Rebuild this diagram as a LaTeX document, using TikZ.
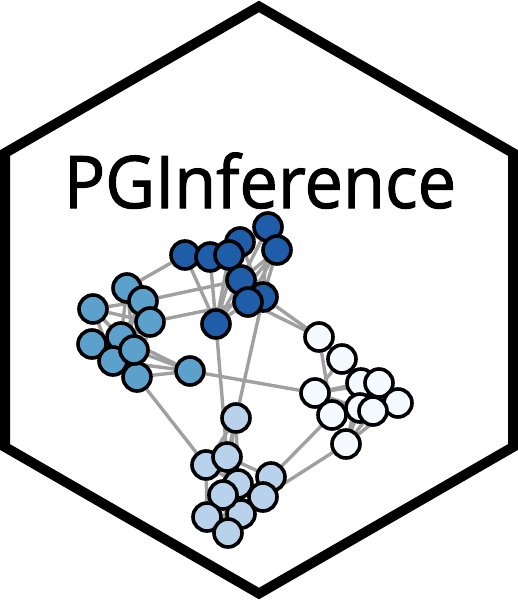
\documentclass[tikz,border=0pt]{standalone}
\usepackage{fontspec}
\setmainfont{Open Sans}[FakeBold=1.5]
\usetikzlibrary{backgrounds}

\definecolor{darkblue}{HTML}{1F5DA8}
\definecolor{midblue}{HTML}{5BA1CC}
\definecolor{lightblue}{HTML}{B9D2EC}
\definecolor{paleblue}{HTML}{F4FAFF}
\definecolor{edgegray}{HTML}{A0A0A0}

\begin{document}
\begin{tikzpicture}[
x=1pt,y=-1pt,
member/.style={
circle,
minimum size=28pt,
inner sep=0pt,
line width=3.6pt,
draw=black
},
link/.style={
line width=3.4pt,
draw=edgegray
}]

\useasboundingbox (0,0) rectangle (518,600);

\node[draw=none,anchor=base,xscale=0.945] (title) at (260,208) {\fontsize{72.5}{72.5}\selectfont PGInference};

% first group
\node[member,fill=darkblue] (a1) at (185,255) {};
\node[member,fill=darkblue] (a2) at (210,257) {};
\node[member,fill=darkblue] (a3) at (240,242) {};
\node[member,fill=darkblue] (a4) at (229,255) {};
\node[member,fill=darkblue] (a5) at (268,227) {};
\node[member,fill=darkblue] (a6) at (277,250) {};
\node[member,fill=darkblue] (a7) at (241,280) {};
\node[member,fill=darkblue] (a8) at (263,297) {};
\node[member,fill=darkblue] (a9) at (248,302) {};
\node[member,fill=darkblue] (a10) at (216,324) {};

% second group
\node[member,fill=midblue] (b1) at (127,288) {};
\node[member,fill=midblue] (b2) at (143,301) {};
\node[member,fill=midblue] (b3) at (150,322) {};
\node[member,fill=midblue] (b4) at (93,309) {};
\node[member,fill=midblue] (b5) at (92,344) {};
\node[member,fill=midblue] (b6) at (121,337) {};
\node[member,fill=midblue] (b7) at (113,361) {};
\node[member,fill=midblue] (b8) at (137,377) {};
\node[member,fill=midblue] (b9) at (134,350) {};
\node[member,fill=midblue] (b10) at (190,371) {};

% third group
\node[member,fill=lightblue] (c1) at (236,418) {};
\node[member,fill=lightblue] (c2) at (206,465) {};
\node[member,fill=lightblue] (c3) at (227,457) {};
\node[member,fill=lightblue] (c4) at (238,484) {};
\node[member,fill=lightblue] (c5) at (271,477) {};
\node[member,fill=lightblue] (c6) at (263,497) {};
\node[member,fill=lightblue] (c7) at (241,514) {};
\node[member,fill=lightblue] (c8) at (223,495) {};
\node[member,fill=lightblue] (c9) at (207,517) {};
\node[member,fill=lightblue] (c10) at (228,533) {};

% fourth group
\node[member,fill=paleblue] (d1) at (319,337) {};
\node[member,fill=paleblue] (d2) at (342,359) {};
\node[member,fill=paleblue] (d3) at (361,383) {};
\node[member,fill=paleblue] (d4) at (379,383) {};
\node[member,fill=paleblue] (d5) at (315,393) {};
\node[member,fill=paleblue] (d6) at (332,415) {};
\node[member,fill=paleblue] (d7) at (360,408) {};
\node[member,fill=paleblue] (d8) at (398,403) {};
\node[member,fill=paleblue] (d9) at (373,411) {};
\node[member,fill=paleblue] (d10) at (346,444) {};

\begin{scope}[on background layer]
\draw[line width=10pt] (259,6.5) -- (513,153) -- (513,447) -- (259,593.5) -- (5,447) -- (5,153) -- cycle;

\draw[link] (a1) -- (b1);
\draw[link] (a1) -- (a10);
\draw[link] (a2) -- (a10);
\draw[link] (a2) -- (a7);
\draw[link] (a3) -- (a10);
\draw[link] (a3) -- (a8);
\draw[link] (a4) -- (a10);
\draw[link] (a4) -- (a7);
\draw[link] (a5) -- (a7);
\draw[link] (a5) -- (a8);
\draw[link] (a5) -- (a4);
\draw[link] (a6) -- (a10);
\draw[link] (a6) -- (a9);
\draw[link] (a6) -- (a8);
\draw[link] (a6) -- (a7);
\draw[link] (a7) -- (a10);
\draw[link] (a9) -- (a10);

\draw[link] (b2) -- (a7);
\draw[link] (b3) -- (a9);
\draw[link] (a10) -- (c3);
\draw[link] (a8) -- (c1);
\draw[link] (a8) -- (d1);
\draw[link] (a9) -- (d1);
\draw[link] (b10) -- (d5);

\draw[link] (b4) -- (b2);
\draw[link] (b4) -- (b3);
\draw[link] (b4) -- (b6);
\draw[link] (b4) -- (b7);
\draw[link] (b4) -- (b9);
\draw[link] (b5) -- (b7);
\draw[link] (b5) -- (b6);
\draw[link] (b1) -- (b9);
\draw[link] (b1) -- (b6);
\draw[link] (b2) -- (b6);
\draw[link] (b2) -- (b9);
\draw[link] (b3) -- (b6);
\draw[link] (b3) -- (b9);
\draw[link] (b3) -- (b8);
\draw[link] (b2) -- (b7);
\draw[link] (b10) -- (b6);
\draw[link] (b10) -- (b9);
\draw[link] (b10) -- (b7);
\draw[link] (b10) -- (b8);
\draw[link] (b8) -- (c2);

\draw[link] (c1) -- (c2);
\draw[link] (c1) -- (c3);
\draw[link] (c1) -- (c4);
\draw[link] (c1) -- (c8);
\draw[link] (c2) -- (c9);
\draw[link] (c2) -- (c4);
\draw[link] (c3) -- (c5);
\draw[link] (c3) -- (c8);
\draw[link] (c4) -- (c7);
\draw[link] (c4) -- (c6);
\draw[link] (c8) -- (c9);
\draw[link] (c8) -- (c10);
\draw[link] (c7) -- (c9);

\draw[link] (c6) -- (d10);
\draw[link] (c5) -- (d6);

\draw[link] (d1) -- (d2);
\draw[link] (d1) -- (d6);
\draw[link] (d2) -- (d5);
\draw[link] (d2) -- (d3);
\draw[link] (d5) -- (d3);
\draw[link] (d5) -- (d4);
\draw[link] (d5) -- (d7);
\draw[link] (d5) -- (d6);
\draw[link] (d6) -- (d10);
\draw[link] (d10) -- (d7);
\draw[link] (d10) -- (d3);
\draw[link] (d10) -- (d9);
\draw[link] (d10) -- (d8);
\end{scope}

\end{tikzpicture}
\end{document}
